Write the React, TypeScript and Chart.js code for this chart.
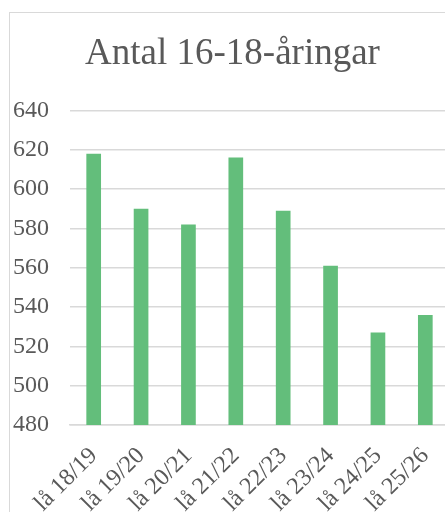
import React, { useEffect, useRef } from "react";
import { Chart, registerables } from "chart.js";

Chart.register(...registerables);

const title = "Antal 16-18-åringar";
const categories = ["lå 18/19", "lå 19/20", "lå 20/21", "lå 21/22", "lå 22/23", "lå 23/24", "lå 24/25", "lå 25/26"];
const values = [618, 590, 582, 616, 589, 561, 527, 536];
const yMin = 480;
const yMax = 640;
const yStep = 20;

const FONT = "Liberation Serif";
const TEXT = "#595959";
const GRID = "#d9d9d9";
const BAR = "#63be7b";

export default function App() {
  const ref = useRef<HTMLCanvasElement | null>(null);
  useEffect(() => {
    if (!ref.current) return;
    const chart = new Chart(ref.current, {
      type: "bar",
      data: {
        labels: categories,
        datasets: [
          {
            data: values,
            backgroundColor: BAR,
            borderWidth: 0,
            categoryPercentage: 1,
            barPercentage: 0.31,
          },
        ],
      },
      options: {
        responsive: false,
        animation: false,
        layout: { padding: 0 },
        plugins: {
          legend: { display: false },
          tooltip: { enabled: false },
          title: {
            display: true,
            text: title,
            color: TEXT,
            font: { family: FONT, size: 37, weight: "normal", lineHeight: 1.2 },
            padding: { top: 19, bottom: 34 },
          },
        },
        scales: {
          x: {
            grid: { display: false, drawTicks: false },
            border: { display: true, color: GRID, width: 1.5 },
            ticks: {
              color: TEXT,
              font: { family: FONT, size: 24 },
              minRotation: 45,
              maxRotation: 45,
              autoSkip: false,
              padding: 17,
            },
            afterFit: (s: any) => {
              s.height = 108;
              s.paddingLeft = 0;
              s.paddingRight = 0;
            },
          },
          y: {
            min: yMin,
            max: yMax,
            grid: { color: GRID, lineWidth: 1.5, drawTicks: false },
            border: { display: false },
            ticks: {
              stepSize: yStep,
              color: TEXT,
              font: { family: FONT, size: 24 },
              padding: 21,
            },
            afterFit: (s: any) => {
              s.width = 60;
            },
          },
          y2: {
            position: "right",
            display: true,
            grid: { display: false, drawTicks: false },
            border: { display: false },
            ticks: { display: false },
            afterFit: (s: any) => {
              s.width = 6;
            },
          },
        },
      },
    } as any);
    return () => chart.destroy();
  }, []);

  return (
    <div
      style={{
        position: "fixed",
        left: 0,
        top: 0,
        width: 445,
        height: 512,
        overflow: "hidden",
        background: "#fff",
      }}
    >
      <div
        style={{
          position: "absolute",
          left: 9,
          top: 12,
          width: 470,
          height: 540,
          border: `1px solid ${GRID}`,
          boxSizing: "border-box",
        }}
      >
        <canvas
          ref={ref}
          width={445}
          height={520}
          style={{ position: "absolute", left: 0, top: 0, width: 445, height: 520 }}
        />
      </div>
    </div>
  );
}
